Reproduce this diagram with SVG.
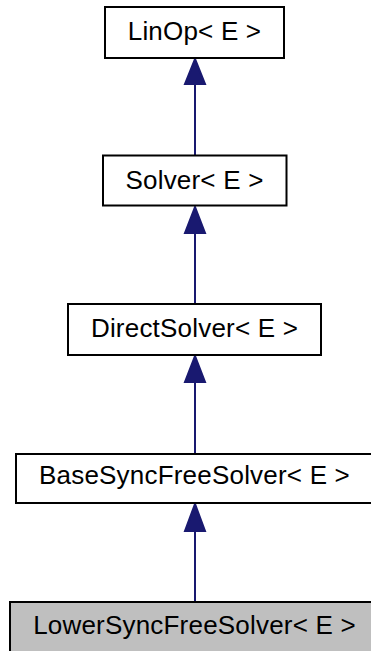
<svg xmlns="http://www.w3.org/2000/svg" width="371" height="651" viewBox="0 0 371 651">
<style>
.box{fill:#ffffff;stroke:#000000;stroke-width:2}
.cur{fill:#bfbfbf;stroke:#000000;stroke-width:2}
.lbl{font-family:"Liberation Sans",Arial,sans-serif;font-size:26px;letter-spacing:0.2px;fill:#000000;text-anchor:middle}
.edge{stroke:#191970;stroke-width:2;fill:none}
.head{fill:#191970;stroke:#191970;stroke-width:2}
</style>
<rect width="371" height="651" fill="#ffffff"/>
<g id="connectors">
<line class="edge" x1="195" y1="155" x2="195" y2="84"/>
<polygon class="head" points="195,59 185,84 205,84"/>
<line class="edge" x1="195" y1="304" x2="195" y2="233"/>
<polygon class="head" points="195,207 185,233 205,233"/>
<line class="edge" x1="195" y1="454" x2="195" y2="382"/>
<polygon class="head" points="195,356 185,382 205,382"/>
<line class="edge" x1="195" y1="602" x2="195" y2="531"/>
<polygon class="head" points="195,504 185,531 205,531"/>
</g>
<g id="node-linop">
<rect class="box" x="105" y="7" width="179" height="51"/>
<text class="lbl" x="194.5" y="39.5">LinOp&lt; E &gt;</text>
</g>
<g id="node-solver">
<rect class="box" x="103" y="155.5" width="183.5" height="50"/>
<text class="lbl" x="194.5" y="188.5">Solver&lt; E &gt;</text>
</g>
<g id="node-directsolver">
<rect class="box" x="68" y="304" width="253" height="51"/>
<text class="lbl" x="194.5" y="337">DirectSolver&lt; E &gt;</text>
</g>
<g id="node-basesyncfreesolver">
<rect class="box" x="16" y="454" width="358" height="49"/>
<text class="lbl" x="194.5" y="484">BaseSyncFreeSolver&lt; E &gt;</text>
</g>
<g id="node-lowersyncfreesolver">
<rect class="cur" x="10" y="602" width="370" height="52"/>
<text class="lbl" x="194.5" y="633.5">LowerSyncFreeSolver&lt; E &gt;</text>
</g>
</svg>
